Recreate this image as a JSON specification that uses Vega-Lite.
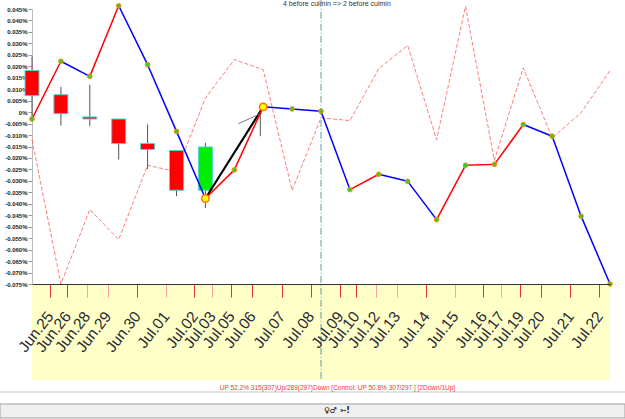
{
  "$schema": "https://vega.github.io/schema/vega-lite/v6.json",
  "width": 578,
  "height": 275,
  "autosize": {"type": "none"},
  "padding": {"left": 32, "top": 9, "right": 15, "bottom": 135},
  "background": "white",
  "config": {"view": {"stroke": null}, "font": "Liberation Sans", "axis": {"labelOverlap": false, "labelFlush": false, "labelBound": false, "grid": false}},
  "datasets": {
    "one": [{"k": 1}],
    "pts": [
      {"i": 0, "v": -0.003, "c": -0.012},
      {"i": 1, "v": 0.0222, "c": -0.075},
      {"i": 2, "v": 0.0156, "c": -0.0425},
      {"i": 3, "v": 0.0464, "c": -0.0556},
      {"i": 4, "v": 0.0207, "c": -0.0232},
      {"i": 5, "v": -0.0084, "c": -0.026},
      {"i": 6, "v": -0.0377, "c": 0.0062},
      {"i": 7, "v": -0.0252, "c": 0.0229},
      {"i": 8, "v": 0.0023, "c": 0.0185},
      {"i": 9, "v": 0.0014, "c": -0.0341},
      {"i": 10, "v": 0.0004, "c": -0.0025},
      {"i": 11, "v": -0.0338, "c": -0.0037},
      {"i": 12, "v": -0.0271, "c": 0.019},
      {"i": 13, "v": -0.0302, "c": 0.0291},
      {"i": 14, "v": -0.0469, "c": -0.012},
      {"i": 15, "v": -0.0232, "c": 0.0461},
      {"i": 16, "v": -0.0228, "c": -0.021},
      {"i": 17, "v": -0.0054, "c": 0.0193},
      {"i": 18, "v": -0.0105, "c": -0.0112},
      {"i": 19, "v": -0.0454, "c": -0.0003},
      {"i": 20, "v": -0.075, "c": 0.0181}
    ],
    "seg": [
      {"i": 0, "v": -0.003, "i2": 1, "v2": 0.0222, "dir": "up"},
      {"i": 1, "v": 0.0222, "i2": 2, "v2": 0.0156, "dir": "down"},
      {"i": 2, "v": 0.0156, "i2": 3, "v2": 0.0464, "dir": "up"},
      {"i": 3, "v": 0.0464, "i2": 4, "v2": 0.0207, "dir": "down"},
      {"i": 4, "v": 0.0207, "i2": 5, "v2": -0.0084, "dir": "down"},
      {"i": 5, "v": -0.0084, "i2": 6, "v2": -0.0377, "dir": "down"},
      {"i": 6, "v": -0.0377, "i2": 7, "v2": -0.0252, "dir": "up"},
      {"i": 7, "v": -0.0252, "i2": 8, "v2": 0.0023, "dir": "up"},
      {"i": 8, "v": 0.0023, "i2": 9, "v2": 0.0014, "dir": "down"},
      {"i": 9, "v": 0.0014, "i2": 10, "v2": 0.0004, "dir": "down"},
      {"i": 10, "v": 0.0004, "i2": 11, "v2": -0.0338, "dir": "down"},
      {"i": 11, "v": -0.0338, "i2": 12, "v2": -0.0271, "dir": "up"},
      {"i": 12, "v": -0.0271, "i2": 13, "v2": -0.0302, "dir": "down"},
      {"i": 13, "v": -0.0302, "i2": 14, "v2": -0.0469, "dir": "down"},
      {"i": 14, "v": -0.0469, "i2": 15, "v2": -0.0232, "dir": "up"},
      {"i": 15, "v": -0.0232, "i2": 16, "v2": -0.0228, "dir": "up"},
      {"i": 16, "v": -0.0228, "i2": 17, "v2": -0.0054, "dir": "up"},
      {"i": 17, "v": -0.0054, "i2": 18, "v2": -0.0105, "dir": "down"},
      {"i": 18, "v": -0.0105, "i2": 19, "v2": -0.0454, "dir": "down"},
      {"i": 19, "v": -0.0454, "i2": 20, "v2": -0.075, "dir": "down"}
    ],
    "candles": [
      {"i": 0, "open": 0.0182, "close": 0.0072, "high": 0.0243, "low": -0.0035},
      {"i": 1, "open": 0.0076, "close": -0.0007, "high": 0.011, "low": -0.0059},
      {"i": 2, "open": -0.0021, "close": -0.003, "high": 0.012, "low": -0.0062},
      {"i": 3, "open": -0.003, "close": -0.0137, "high": -0.003, "low": -0.0207},
      {"i": 4, "open": -0.0137, "close": -0.0163, "high": -0.0054, "low": -0.0248},
      {"i": 5, "open": -0.0167, "close": -0.0341, "high": -0.0167, "low": -0.0367},
      {"i": 6, "open": -0.0341, "close": -0.0152, "high": -0.0134, "low": -0.0418},
      {"i": 7.9, "open": null, "close": null, "high": 0.002, "low": -0.0105}
    ],
    "trend": [
      {"x": 6, "y": -0.0377, "x2": 8, "y2": 0.0023, "kind": "main"},
      {"x": 7.14, "y": -0.0051, "x2": 7.95, "y2": -0.0004, "kind": "aux"}
    ]
  },
  "layer": [
    {
      "data": {"name": "pts"},
      "mark": {"type": "line", "stroke": "#ff4444", "strokeWidth": 1, "strokeDash": [4, 2], "opacity": 0.7},
      "encoding": {
        "x": {
          "field": "i", "type": "quantitative",
          "scale": {"domain": [0, 20], "nice": false, "zero": false, "padding": 0},
          "axis": {
            "values": [0.62, 1.22, 1.89, 2.62, 3.64, 4.63, 5.62, 6.23, 6.89, 7.62, 8.64, 9.64, 10.65, 11.21, 11.91, 12.62, 13.64, 14.63, 15.62, 16.22, 16.9, 17.62, 18.63, 19.63],
            "tickCount": 100,
            "labelExpr": "['Jun.25','Jun.26','Jun.28','Jun.29','Jun.30','Jul.01','Jul.02','Jul.03','Jul.05','Jul.06','Jul.07','Jul.08','Jul.09','Jul.10','Jul.12','Jul.13','Jul.14','Jul.15','Jul.16','Jul.17','Jul.19','Jul.20','Jul.21','Jul.22'][indexof([0.62,1.22,1.89,2.62,3.64,4.63,5.62,6.23,6.89,7.62,8.64,9.64,10.65,11.21,11.91,12.62,13.64,14.63,15.62,16.22,16.9,17.62,18.63,19.63], datum.value)]",
            "labelAngle": -52,
            "labelAlign": "right",
            "labelBaseline": "middle",
            "labelFontSize": 15.5,
            "labelFont": "Liberation Sans",
            "labelColor": "#2a2a36",
            "labelPadding": 16,
            "labelOverlap": false,
            "labelFlush": false,
            "labelBound": false,
            "tickSize": 13,
            "tickWidth": 1,
            "tickColor": {"condition": {"test": "indexof([1.89,2.62,4.63,6.23,11.91,12.62,14.63,16.22], datum.value) >= 0", "value": "#f5a3a3"}, "value": "#ee3333"},
            "domainColor": "#333333",
            "domainWidth": 1,
            "grid": false,
            "zindex": 1,
            "title": "UP 52.2%  315(307)Up/289(297)Down [Control: UP 50.8%  307/297 ] [2Down/1Up]",
            "titleColor": "#ff3333",
            "titleFontSize": 6.5,
            "titleFontWeight": "normal",
            "titleFont": "Liberation Sans",
            "titleX": 305,
            "titleY": 103,
            "titleAlign": "center",
            "titleBaseline": "middle"
          }
        },
        "y": {
          "field": "c", "type": "quantitative",
          "scale": {"domain": [-0.075, 0.045], "nice": false, "zero": false, "padding": 0},
          "axis": {
            "values": [0.045, 0.04, 0.035, 0.03, 0.025, 0.02, 0.015, 0.01, 0.005, 0, -0.005, -0.01, -0.015, -0.02, -0.025, -0.03, -0.035, -0.04, -0.045, -0.05, -0.055, -0.06, -0.065, -0.07, -0.075],
            "tickCount": 100,
            "labelExpr": "abs(datum.value) < 1e-9 ? '0%' : (datum.value < 0 ? '-' : '') + format(abs(datum.value), '.3f') + '%'",
            "labelFontSize": 6,
            "labelFontWeight": "bold",
            "labelFont": "Liberation Sans",
            "labelColor": "#222222",
            "labelPadding": 1,
            "labelOverlap": false,
            "labelFlush": false,
            "tickSize": 4,
            "tickColor": "#999999",
            "domainColor": "#bbbbbb",
            "grid": false,
            "title": null
          }
        }
      }
    },
    {
      "data": {"name": "one"},
      "mark": {"type": "rect", "fill": "#ffffc8"},
      "encoding": {
        "x": {"datum": 0, "type": "quantitative"},
        "x2": {"datum": 20},
        "y": {"datum": -0.075, "type": "quantitative"},
        "y2": {"datum": -0.117}
      }
    },
    {
      "data": {"name": "one"},
      "mark": {"type": "rule", "stroke": "#c4c4c4", "strokeWidth": 1},
      "encoding": {
        "x": {"datum": -1.107, "type": "quantitative"},
        "x2": {"datum": 20.519},
        "y": {"datum": -0.12213, "type": "quantitative"}
      }
    },
    {
      "data": {"name": "one"},
      "mark": {"type": "rect", "fill": "#f0f0f0", "stroke": "#a0a0a0", "strokeWidth": 1},
      "encoding": {
        "x": {"datum": -1.107, "type": "quantitative"},
        "x2": {"datum": 20.519},
        "y": {"datum": -0.12736, "type": "quantitative"},
        "y2": {"datum": -0.13347}
      }
    },
    {
      "data": {"name": "one"},
      "mark": {"type": "text", "text": "♀♂ ➳!", "fontSize": 8, "font": "DejaVu Sans", "fontWeight": "bold", "color": "#111111", "align": "center", "baseline": "middle"},
      "encoding": {
        "x": {"datum": 10.55, "type": "quantitative"},
        "y": {"datum": -0.1306, "type": "quantitative"}
      }
    },
    {
      "data": {"name": "one"},
      "mark": {"type": "text", "text": "4 before culmin => 2 before culmin", "fontSize": 7, "font": "Liberation Sans", "color": "#333333", "align": "center", "baseline": "middle"},
      "encoding": {
        "x": {"datum": 10.55, "type": "quantitative"},
        "y": {"datum": 0.0472, "type": "quantitative"}
      }
    },
    {
      "data": {"name": "one"},
      "mark": {"type": "rule", "stroke": "#5f9ea0", "strokeWidth": 1, "strokeDash": [7, 2, 1, 2]},
      "encoding": {
        "x": {"datum": 10, "type": "quantitative"},
        "y": {"datum": 0.049, "type": "quantitative"},
        "y2": {"datum": -0.117}
      }
    },
    {
      "data": {"name": "candles"},
      "mark": {"type": "rule", "stroke": "#555555", "strokeWidth": 1},
      "encoding": {
        "x": {"field": "i", "type": "quantitative"},
        "y": {"field": "low", "type": "quantitative"},
        "y2": {"field": "high"}
      }
    },
    {
      "data": {"name": "candles"},
      "mark": {"type": "bar", "width": 14, "stroke": "#55d0dd", "strokeWidth": 1},
      "encoding": {
        "x": {"field": "i", "type": "quantitative"},
        "y": {"field": "open", "type": "quantitative"},
        "y2": {"field": "close"},
        "fill": {"condition": {"test": "datum.close < datum.open", "value": "#ff0000"}, "value": "#00ee00"}
      }
    },
    {
      "data": {"name": "trend"},
      "mark": {"type": "rule"},
      "encoding": {
        "x": {"field": "x", "type": "quantitative"},
        "x2": {"field": "x2"},
        "y": {"field": "y", "type": "quantitative"},
        "y2": {"field": "y2"},
        "stroke": {"condition": {"test": "datum.kind == 'main'", "value": "#000000"}, "value": "#777777"},
        "strokeWidth": {"condition": {"test": "datum.kind == 'main'", "value": 2.2}, "value": 1}
      }
    },
    {
      "data": {"name": "seg"},
      "mark": {"type": "rule", "strokeWidth": 1.5},
      "encoding": {
        "x": {"field": "i", "type": "quantitative"},
        "x2": {"field": "i2"},
        "y": {"field": "v", "type": "quantitative"},
        "y2": {"field": "v2"},
        "stroke": {"field": "dir", "type": "nominal", "scale": {"domain": ["up", "down"], "range": ["#ff0000", "#0000ff"]}, "legend": null}
      }
    },
    {
      "data": {"name": "pts"},
      "mark": {"type": "point", "shape": "circle", "filled": true, "size": 22, "fill": "#33cc33", "stroke": "#ff8c00", "strokeWidth": 1, "opacity": 1},
      "encoding": {
        "x": {"field": "i", "type": "quantitative"},
        "y": {"field": "v", "type": "quantitative"}
      }
    },
    {
      "data": {"name": "pts"},
      "transform": [{"filter": "datum.i == 6 || datum.i == 8"}],
      "mark": {"type": "point", "shape": "circle", "filled": true, "size": 55, "fill": "#ffff00", "stroke": "#ff7700", "strokeWidth": 1.5, "opacity": 1},
      "encoding": {
        "x": {"field": "i", "type": "quantitative"},
        "y": {"field": "v", "type": "quantitative"}
      }
    }
  ]
}
